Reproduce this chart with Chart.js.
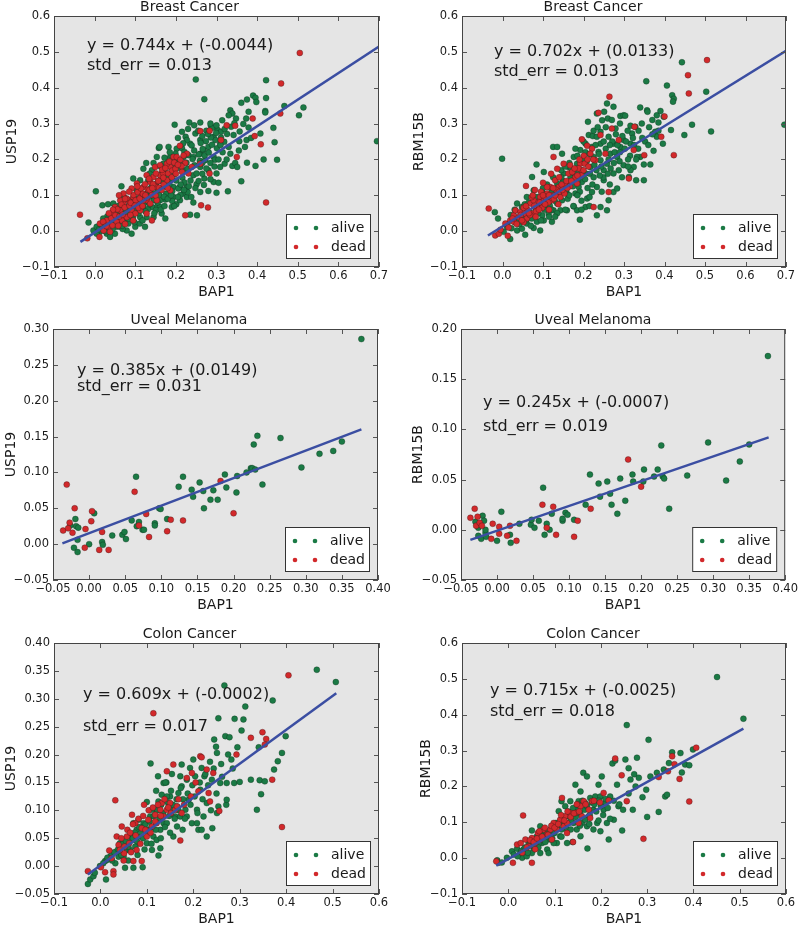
<!DOCTYPE html>
<html>
<head>
<meta charset="utf-8">
<script src="https://cdn.jsdelivr.net/npm/chart.js@4.4.1/dist/chart.umd.min.js"></script>
<style>
    html, body { margin: 0; padding: 0; background: #ffffff; }
    body { width: 800px; height: 925px; overflow: hidden; position: relative; }
    canvas { position: absolute; }
</style>
</head>
<body>
<canvas id="c0"></canvas>
<canvas id="c1"></canvas>
<canvas id="c2"></canvas>
<canvas id="c3"></canvas>
<canvas id="c4"></canvas>
<canvas id="c5"></canvas>
<script>
// ---- data ----
const panelTitles = ['Breast Cancer', 'Breast Cancer', 'Uveal Melanoma', 'Uveal Melanoma', 'Colon Cancer', 'Colon Cancer'];
const xLabel = 'BAP1';
const yLabels = ['USP19', 'RBM15B', 'USP19', 'RBM15B', 'USP19', 'RBM15B'];
const seriesNames = ['alive', 'dead'];

const xTicksBreast = [-0.1, 0.0, 0.1, 0.2, 0.3, 0.4, 0.5, 0.6, 0.7];
const yTicksBreast = [-0.1, 0.0, 0.1, 0.2, 0.3, 0.4, 0.5, 0.6];
const xTicksUveal = [-0.05, 0.00, 0.05, 0.10, 0.15, 0.20, 0.25, 0.30, 0.35, 0.40];
const yTicksUvealUsp = [-0.05, 0.00, 0.05, 0.10, 0.15, 0.20, 0.25, 0.30];
const yTicksUvealRbm = [-0.05, 0.00, 0.05, 0.10, 0.15, 0.20];
const xTicksColon = [-0.1, 0.0, 0.1, 0.2, 0.3, 0.4, 0.5, 0.6];
const yTicksColonUsp = [-0.05, 0.00, 0.05, 0.10, 0.15, 0.20, 0.25, 0.30, 0.35, 0.40];
const yTicksColonRbm = [-0.1, 0.0, 0.1, 0.2, 0.3, 0.4, 0.5, 0.6];

const equations = ['y = 0.744x + (-0.0044)', 'y = 0.702x + (0.0133)', 'y = 0.385x + (0.0149)',
                   'y = 0.245x + (-0.0007)', 'y = 0.609x + (-0.0002)', 'y = 0.715x + (-0.0025)'];
const stdErrs = ['std_err = 0.013', 'std_err = 0.013', 'std_err = 0.031',
                 'std_err = 0.019', 'std_err = 0.017', 'std_err = 0.018'];

// regression line end points
const fitX = [[-0.035, 0.70], [-0.036, 0.70], [-0.037, 0.377], [-0.037, 0.377], [-0.027, 0.508], [-0.026, 0.508]];
const fitY = [[-0.030, 0.515], [-0.012, 0.503], [0.001, 0.160], [-0.010, 0.092], [-0.015, 0.310], [-0.021, 0.361]];

const breastUspAlive = [
    [0.003,0.111],[-0.015,0.024],[-0.003,0.002],[0.019,0.072],[0.066,0.125],[0.033,0.075],[0.095,0.147],[0.127,0.190],
    [0.158,0.232],[0.197,0.297],[0.249,0.423],[0.270,0.368],[0.233,0.303],[0.260,0.303],[0.286,0.294],[0.290,0.288],
    [0.303,0.282],[0.311,0.277],[0.334,0.337],[0.339,0.328],[0.348,0.314],[0.361,0.358],[0.375,0.367],[0.390,0.378],
    [0.396,0.372],[0.398,0.360],[0.422,0.421],[0.422,0.371],[0.420,0.335],[0.420,0.331],[0.379,0.333],[0.373,0.314],
    [0.379,0.289],[0.357,0.278],[0.374,0.254],[0.408,0.272],[0.440,0.288],[0.467,0.349],[0.514,0.345],[0.503,0.323],
    [0.443,0.248],[0.449,0.199],[0.416,0.200],[0.396,0.182],[0.375,0.191],[0.361,0.139],[0.339,0.182],[0.328,0.111],
    [0.320,0.188],[0.334,0.216],[0.695,0.251],[0.309,0.244],[0.293,0.207],[0.280,0.235],[0.260,0.254],[0.248,0.272],
    [0.235,0.244],[0.224,0.263],[0.215,0.231],[0.202,0.202],[0.194,0.179],[0.182,0.235],[0.169,0.170],[0.160,0.235],
    [0.161,0.142],[0.153,0.105],[0.174,0.088],[0.174,0.035],[0.201,0.075],[0.210,0.086],[0.235,0.046],[0.252,0.044],
    [0.243,0.080],[0.260,0.109],[0.280,0.112],[0.300,0.107],[0.293,0.137],[0.270,0.147],[0.260,0.179],[0.243,0.156],
    [0.223,0.170],[0.227,0.123],[0.210,0.123],[0.194,0.123],[0.186,0.142],[0.141,0.170],[0.141,0.123],[0.128,0.095],
    [0.120,0.067],[0.112,0.039],[0.095,0.067],[0.094,0.039],[0.079,0.058],[0.071,0.030],[0.054,0.012],[0.042,0.002],
    [0.030,-0.007],[0.038,-0.016],[0.013,-0.002],[0.022,0.021],[0.054,0.049],[0.046,0.077],[0.072,0.095],[0.087,0.086],
    [0.104,0.114],[0.112,0.142],[0.120,0.174],[0.132,0.142],[0.145,0.105],[0.153,0.067],[0.161,0.086],[0.178,0.123],
    [0.178,0.161],[0.219,0.207],[0.231,0.212],[0.260,0.216],[0.272,0.198],[0.280,0.170],[0.300,0.161],[0.309,0.179],
    [0.275,0.280],[0.293,0.263],[0.330,0.235],[0.342,0.268],[0.346,0.190],[0.351,0.179],[0.330,0.323],[0.314,0.309],
    [0.297,0.254],[0.161,0.067],[0.141,0.067],[0.100,0.012],[0.083,0.021],[0.063,0.012],[0.079,0.002],[0.005,0.012],
    [0.005,-0.007],[0.050,-0.007],[0.091,-0.007],[0.124,0.012],[0.128,0.039],[0.145,0.039],[0.165,0.049],[0.190,0.067],
    [0.194,0.095],[0.219,0.105],[0.227,0.095],[0.153,0.207],[0.169,0.188],[0.186,0.207],[0.202,0.230],[0.215,0.277],
    [0.227,0.254],[0.243,0.207],[0.268,0.226],
    [0.011,0.005],[0.019,0.010],[0.026,0.000],[0.034,0.021],[0.041,0.011],[0.046,0.031],[0.056,0.034],[0.061,0.021],
    [0.064,0.046],[0.071,0.061],[0.076,0.041],[0.081,0.069],[0.086,0.052],[0.091,0.074],[0.097,0.086],[0.101,0.061],
    [0.106,0.091],[0.109,0.074],[0.116,0.101],[0.121,0.094],[0.126,0.081],[0.131,0.111],[0.136,0.096],[0.139,0.121],
    [0.146,0.086],[0.151,0.131],[0.156,0.114],[0.159,0.101],[0.166,0.139],[0.171,0.126],[0.176,0.104],[0.181,0.151],
    [0.184,0.131],[0.191,0.111],[0.196,0.159],[0.201,0.141],[0.206,0.119],[0.209,0.176],[0.216,0.149],[0.221,0.136],
    [0.226,0.191],[0.229,0.174],[0.236,0.141],[0.241,0.201],[0.246,0.184],[0.251,0.161],[0.256,0.214],[0.259,0.196],
    [0.266,0.229],[0.271,0.211],[0.274,0.251],[0.281,0.219],[0.286,0.261],[0.289,0.241],[0.296,0.199],[0.301,0.231],
    [0.311,0.261],[0.319,0.249],[0.326,0.271],[0.336,0.291],[0.344,0.301],[0.356,0.251],[0.366,0.299],[0.171,0.096],
    [0.191,0.084],[0.211,0.101],[0.229,0.109],[0.251,0.131],[0.269,0.129],[0.162,0.181],[0.181,0.199],[0.199,0.216],
    [0.221,0.221],[0.239,0.239],[0.261,0.246],[0.279,0.271],[0.299,0.274],[0.131,0.061],[0.151,0.059],[0.111,0.021],
    [0.069,0.006],[0.031,0.041],[0.059,0.071],
    [0.021,0.035],[0.036,0.045],[0.044,0.005],[0.058,0.055],[0.068,0.015],[0.083,0.035],[0.098,0.025],[0.108,0.050],
    [0.118,0.030],[0.125,0.055],[0.135,0.075],[0.147,0.050],[0.155,0.080],[0.163,0.060],[0.172,0.070],[0.180,0.090],
    [0.188,0.100],[0.196,0.070],[0.205,0.095],[0.212,0.130],[0.220,0.115],[0.232,0.125],[0.238,0.095],[0.248,0.120],
    [0.256,0.140],[0.265,0.160],[0.275,0.175],[0.285,0.190],[0.295,0.180],[0.305,0.200],[0.315,0.220],[0.325,0.200],
    [0.205,0.260],[0.218,0.245],[0.230,0.285],[0.245,0.295],[0.255,0.280],[0.265,0.265],[0.285,0.300],[0.300,0.295],
    [0.310,0.240],[0.320,0.285],[0.185,0.220],[0.172,0.205],[0.145,0.190],[0.135,0.160],[0.165,0.160],[0.195,0.195],
    [0.210,0.190],[0.245,0.225],[0.265,0.190],[0.285,0.145],[0.305,0.135],[0.355,0.225],[0.370,0.235],[0.385,0.260]
];
const breastUspDead = [
    [-0.036,0.046],[-0.018,-0.020],[0.012,-0.016],[0.013,0.021],[0.030,0.030],[0.046,0.049],[0.050,0.067],[0.063,0.058],
    [0.071,0.077],[0.083,0.086],[0.095,0.095],[0.104,0.077],[0.112,0.105],[0.120,0.123],[0.128,0.086],[0.137,0.137],
    [0.145,0.151],[0.153,0.123],[0.161,0.156],[0.169,0.161],[0.178,0.142],[0.186,0.179],[0.194,0.207],[0.210,0.238],
    [0.223,0.190],[0.231,0.161],[0.239,0.179],[0.260,0.188],[0.283,0.161],[0.260,0.279],[0.283,0.280],[0.311,0.254],
    [0.325,0.295],[0.346,0.294],[0.350,0.207],[0.389,0.314],[0.394,0.265],[0.409,0.242],[0.422,0.080],[0.459,0.412],
    [0.457,0.328],[0.505,0.497],[0.279,0.066],[0.262,0.072],[0.223,0.044],[0.186,0.114],[0.141,0.030],[0.128,0.049],
    [0.112,0.058],[0.091,0.058],[0.079,0.039],[0.067,0.030],[0.054,0.026],[0.034,0.012],[0.038,-0.002],[0.022,0.002],
    [0.071,0.105],[0.091,0.119],[0.104,0.133],[0.128,0.156],[0.149,0.179],[0.161,0.184],[0.178,0.188],[0.202,0.207],
    [0.227,0.216],[0.137,0.077],[0.153,0.086],[0.120,0.086],[0.100,0.049],[0.063,0.086],
    [0.021,0.026],[0.029,0.014],[0.041,0.036],[0.051,0.044],[0.056,0.061],[0.061,0.041],[0.066,0.074],[0.074,0.066],
    [0.079,0.091],[0.086,0.071],[0.089,0.079],[0.096,0.101],[0.101,0.086],[0.106,0.109],[0.111,0.091],[0.114,0.119],
    [0.119,0.104],[0.124,0.131],[0.131,0.116],[0.134,0.146],[0.141,0.101],[0.144,0.131],[0.151,0.161],[0.156,0.139],
    [0.159,0.121],[0.166,0.171],[0.169,0.149],[0.174,0.176],[0.181,0.161],[0.184,0.194],[0.191,0.169],[0.196,0.191],
    [0.199,0.174],[0.211,0.199],[0.214,0.181],[0.219,0.211],[0.044,0.016],[0.069,0.046],[0.099,0.071],[0.129,0.094],
    [0.058,0.015],[0.075,0.020],[0.088,0.045],[0.095,0.030],[0.108,0.065],[0.118,0.070],[0.125,0.100],[0.135,0.115],
    [0.142,0.120],[0.150,0.100],[0.157,0.140],[0.165,0.115],[0.170,0.130],[0.180,0.120],[0.190,0.150],[0.200,0.160],
    [0.205,0.185],[0.215,0.165],[0.105,0.125],[0.085,0.110],[0.075,0.090],[0.060,0.100],[0.045,0.060],[0.035,0.050]
];

const breastRbmAlive = [
    [-0.001,0.202],[-0.019,0.053],[-0.011,0.035],[0.019,-0.022],[0.056,-0.010],[0.077,0.009],[0.084,0.186],[0.098,0.109],
    [0.073,0.151],[0.102,0.165],[0.125,0.235],[0.135,0.235],[0.147,0.216],[0.176,0.207],[0.191,0.032],[0.176,0.069],
    [0.159,0.058],[0.143,0.058],[0.122,0.026],[0.102,0.030],[0.036,0.002],[0.044,0.039],[0.036,0.077],[0.060,0.095],
    [0.077,0.114],[0.093,0.086],[0.114,0.077],[0.126,0.105],[0.135,0.133],[0.151,0.161],[0.163,0.179],[0.184,0.188],
    [0.192,0.226],[0.205,0.244],[0.213,0.268],[0.211,0.305],[0.223,0.265],[0.233,0.263],[0.233,0.328],[0.246,0.309],
    [0.258,0.356],[0.274,0.347],[0.251,0.333],[0.291,0.321],[0.299,0.323],[0.303,0.322],[0.260,0.314],[0.340,0.345],
    [0.357,0.337],[0.358,0.333],[0.355,0.418],[0.381,0.323],[0.390,0.335],[0.398,0.319],[0.406,0.406],[0.419,0.379],
    [0.423,0.369],[0.421,0.361],[0.443,0.471],[0.449,0.268],[0.468,0.297],[0.503,0.389],[0.515,0.278],[0.696,0.297],
    [0.416,0.282],[0.385,0.303],[0.377,0.277],[0.381,0.263],[0.396,0.244],[0.373,0.224],[0.365,0.186],[0.349,0.186],
    [0.340,0.207],[0.332,0.207],[0.324,0.179],[0.316,0.170],[0.312,0.151],[0.330,0.142],[0.349,0.142],[0.328,0.291],
    [0.320,0.272],[0.316,0.244],[0.299,0.254],[0.291,0.235],[0.283,0.207],[0.274,0.244],[0.266,0.216],[0.258,0.188],
    [0.250,0.170],[0.242,0.198],[0.237,0.221],[0.225,0.207],[0.217,0.179],[0.205,0.161],[0.196,0.137],[0.188,0.123],
    [0.180,0.105],[0.167,0.128],[0.159,0.105],[0.147,0.086],[0.135,0.077],[0.126,0.058],[0.114,0.049],[0.098,0.044],
    [0.085,0.026],[0.073,0.039],[0.060,0.021],[0.048,0.007],[0.011,0.012],[0.003,-0.002],[0.028,0.030],[0.209,0.091],
    [0.221,0.109],[0.233,0.123],[0.250,0.142],[0.262,0.086],[0.274,0.109],[0.283,0.119],[0.258,0.058],[0.233,0.044],
    [0.242,0.067],[0.205,0.067],[0.184,0.058],[0.093,0.002],[0.287,0.170],[0.299,0.184],[0.274,0.161],[0.242,0.244],
    [0.262,0.263],[0.279,0.286],[0.316,0.294],[0.242,0.277],[0.221,0.235],[0.172,0.151],[0.151,0.123],[0.135,0.105],
    [0.118,0.095],[0.102,0.067],[0.077,0.049],[0.060,0.058],[0.048,0.067],
    [0.012,0.020],[0.022,0.008],[0.031,0.025],[0.042,0.020],[0.051,0.040],[0.058,0.030],[0.066,0.055],[0.072,0.035],
    [0.081,0.065],[0.088,0.050],[0.096,0.075],[0.104,0.060],[0.108,0.090],[0.117,0.070],[0.121,0.110],[0.129,0.085],
    [0.137,0.120],[0.142,0.100],[0.149,0.140],[0.157,0.115],[0.161,0.090],[0.168,0.150],[0.174,0.125],[0.179,0.160],
    [0.186,0.140],[0.191,0.110],[0.198,0.165],[0.204,0.145],[0.208,0.195],[0.216,0.160],[0.222,0.130],[0.227,0.185],
    [0.232,0.170],[0.238,0.215],[0.244,0.180],[0.249,0.150],[0.255,0.230],[0.262,0.200],[0.267,0.175],[0.271,0.250],
    [0.277,0.220],[0.284,0.240],[0.289,0.195],[0.296,0.265],[0.302,0.230],[0.309,0.280],[0.315,0.210],[0.322,0.260],
    [0.336,0.280],[0.344,0.300],[0.352,0.250],[0.362,0.290],[0.370,0.310],[0.225,0.280],[0.205,0.220],[0.185,0.210],
    [0.165,0.190],[0.145,0.170],[0.125,0.150],[0.265,0.130],[0.245,0.110],[0.215,0.095],[0.195,0.085],[0.175,0.070],
    [0.155,0.060],[0.135,0.050],[0.115,0.040],[0.095,0.030],[0.310,0.180],[0.330,0.200],
    [0.020,0.045],[0.030,0.060],[0.040,0.030],[0.055,0.075],[0.065,0.080],[0.070,0.015],[0.085,0.095],[0.100,0.120],
    [0.110,0.130],[0.120,0.060],[0.130,0.040],[0.145,0.150],[0.155,0.180],[0.165,0.100],[0.170,0.175],[0.185,0.100],
    [0.190,0.160],[0.200,0.200],[0.210,0.120],[0.215,0.215],[0.225,0.150],[0.230,0.240],[0.240,0.155],[0.250,0.250],
    [0.260,0.160],[0.265,0.240],[0.275,0.190],[0.280,0.270],[0.290,0.220],[0.295,0.150],[0.305,0.250],[0.310,0.200],
    [0.325,0.240],[0.335,0.230],[0.345,0.260],[0.360,0.240],[0.370,0.270],[0.385,0.280],[0.255,0.290],[0.235,0.290],
    [0.270,0.310],[0.290,0.300],[0.200,0.250],[0.180,0.230],[0.195,0.060],[0.215,0.070]
];
const breastRbmDead = [
    [-0.034,0.063],[-0.018,-0.012],[-0.009,-0.007],[0.013,-0.013],[-0.005,0.004],[0.007,0.021],[0.019,0.030],[0.028,0.044],
    [0.032,0.058],[0.044,0.053],[0.058,0.126],[0.054,0.049],[0.060,0.035],[0.069,0.077],[0.077,0.086],[0.085,0.067],
    [0.093,0.095],[0.102,0.086],[0.110,0.105],[0.118,0.123],[0.126,0.207],[0.130,0.142],[0.139,0.123],[0.143,0.095],
    [0.151,0.188],[0.155,0.128],[0.163,0.161],[0.176,0.142],[0.184,0.133],[0.196,0.256],[0.192,0.188],[0.203,0.188],
    [0.209,0.238],[0.221,0.230],[0.229,0.198],[0.237,0.330],[0.242,0.268],[0.254,0.216],[0.262,0.109],[0.225,0.067],
    [0.270,0.286],[0.264,0.375],[0.287,0.254],[0.312,0.147],[0.324,0.226],[0.326,0.291],[0.350,0.212],[0.392,0.263],
    [0.400,0.320],[0.423,0.212],[0.458,0.435],[0.460,0.384],[0.505,0.477],[0.028,0.026],[0.040,0.039],[0.073,0.049],
    [0.089,0.081],[0.110,0.123],[0.122,0.086],[0.135,0.174],[0.167,0.184],[0.196,0.170],[0.217,0.216],
    [0.015,0.010],[0.025,0.035],[0.035,0.020],[0.045,0.045],[0.052,0.025],[0.062,0.060],[0.068,0.045],[0.078,0.070],
    [0.083,0.055],[0.092,0.080],[0.098,0.065],[0.106,0.095],[0.113,0.080],[0.120,0.100],[0.127,0.090],[0.133,0.115],
    [0.140,0.110],[0.146,0.130],[0.153,0.105],[0.158,0.140],[0.166,0.125],[0.172,0.165],[0.180,0.150],[0.188,0.175],
    [0.195,0.155],[0.201,0.210],[0.212,0.180],[0.224,0.200],[0.052,0.065],[0.072,0.095],[0.095,0.110],[0.115,0.060],
    [0.138,0.075],
    [0.048,0.030],[0.058,0.070],[0.065,0.050],[0.075,0.100],[0.082,0.040],[0.090,0.060],[0.100,0.100],[0.105,0.075],
    [0.115,0.100],[0.125,0.120],[0.130,0.100],[0.140,0.150],[0.148,0.115],[0.160,0.120],[0.170,0.140],[0.178,0.175],
    [0.185,0.155],[0.190,0.200],[0.200,0.170],[0.210,0.200],[0.080,0.115],[0.100,0.135],[0.120,0.160]
];

const uvealUspAlive = [
    [-0.019,0.035],[-0.021,-0.005],[-0.018,0.025],[-0.015,0.023],[-0.016,0.006],[-0.016,-0.011],[-0.026,0.026],[0.000,0.000],
    [0.007,0.043],[0.018,0.003],[0.019,-0.001],[0.032,0.012],[0.046,0.013],[0.049,0.017],[0.051,0.007],[0.059,0.033],
    [0.065,0.094],[0.066,0.025],[0.069,0.031],[0.074,0.020],[0.076,0.020],[0.091,0.029],[0.091,0.026],[0.097,0.050],
    [0.099,0.049],[0.108,0.035],[0.124,0.080],[0.130,0.094],[0.142,0.076],[0.144,0.066],[0.153,0.086],[0.158,0.074],
    [0.159,0.050],[0.172,0.075],[0.168,0.062],[0.178,0.062],[0.188,0.097],[0.190,0.079],[0.204,0.072],[0.205,0.095],
    [0.218,0.100],[0.224,0.106],[0.226,0.106],[0.228,0.139],[0.230,0.104],[0.233,0.151],[0.240,0.083],[0.265,0.148],
    [0.294,0.107],[0.319,0.126],[0.338,0.130],[0.350,0.143],[0.377,0.286]
];
const uvealUspDead = [
    [-0.036,0.019],[-0.031,0.083],[-0.027,0.030],[-0.029,0.022],[-0.023,0.016],[-0.020,0.050],[-0.006,-0.005],[-0.005,0.021],
    [0.003,0.032],[0.004,0.046],[0.014,-0.008],[0.018,0.017],[0.027,-0.008],[0.063,0.073],[0.069,0.026],[0.079,0.042],
    [0.083,0.010],[0.108,0.018],[0.113,0.034],[0.130,0.033],[0.182,0.088],[0.200,0.043]
];

const uvealRbmAlive = [
    [-0.030,0.008],[-0.026,0.002],[-0.026,-0.006],[-0.022,-0.009],[-0.020,0.014],[-0.018,0.009],[-0.016,-0.003],[-0.015,-0.007],
    [-0.016,0.000],[0.000,-0.011],[0.006,0.018],[0.018,-0.005],[0.019,-0.013],[0.031,0.006],[0.047,0.005],[0.048,0.010],
    [0.052,0.002],[0.058,0.009],[0.064,0.042],[0.066,-0.005],[0.069,0.006],[0.073,0.000],[0.076,0.016],[0.091,0.009],
    [0.091,0.011],[0.095,0.017],[0.098,0.015],[0.107,0.010],[0.123,0.025],[0.129,0.055],[0.141,0.046],[0.143,0.033],
    [0.153,0.048],[0.157,0.036],[0.159,0.025],[0.171,0.051],[0.167,0.016],[0.178,0.029],[0.188,0.055],[0.189,0.048],
    [0.204,0.060],[0.203,0.048],[0.218,0.053],[0.223,0.060],[0.228,0.084],[0.230,0.053],[0.232,0.051],[0.239,0.021],
    [0.264,0.054],[0.293,0.087],[0.318,0.049],[0.337,0.068],[0.350,0.085],[0.376,0.173]
];
const uvealRbmDead = [
    [-0.037,0.012],[-0.031,0.021],[-0.027,0.013],[-0.029,0.004],[-0.024,0.007],[-0.021,0.004],[-0.006,0.006],[-0.008,-0.009],
    [0.003,-0.004],[0.003,0.003],[0.014,-0.006],[0.018,0.004],[0.027,-0.011],[0.063,0.025],[0.069,0.002],[0.078,0.023],
    [0.082,-0.005],[0.107,-0.007],[0.112,0.009],[0.130,0.021],[0.182,0.070],[0.200,0.043]
];

const colonUspAlive = [
    [-0.027,-0.032],[-0.022,-0.024],[-0.015,-0.018],[-0.012,-0.012],[-0.001,0.000],[0.010,0.009],[0.012,-0.024],[0.021,0.017],
    [0.032,0.005],[0.035,0.026],[0.042,0.041],[0.053,-0.003],[0.057,0.029],[0.068,0.047],[0.071,-0.003],[0.078,0.065],
    [0.082,0.041],[0.091,-0.002],[0.093,0.077],[0.100,0.041],[0.107,0.089],[0.108,0.184],[0.114,0.053],[0.121,0.101],
    [0.125,0.019],[0.129,0.032],[0.124,0.161],[0.132,0.128],[0.136,0.077],[0.142,0.150],[0.147,0.107],[0.150,0.125],
    [0.154,0.165],[0.157,0.053],[0.161,0.089],[0.165,0.107],[0.168,0.131],[0.172,0.161],[0.175,0.143],[0.177,0.065],
    [0.183,0.101],[0.186,0.155],[0.190,0.119],[0.193,0.176],[0.197,0.077],[0.200,0.191],[0.204,0.161],[0.208,0.101],
    [0.211,0.065],[0.215,0.137],[0.218,0.176],[0.224,0.161],[0.229,0.113],[0.236,0.187],[0.241,0.068],[0.245,0.227],
    [0.249,0.214],[0.251,0.095],[0.254,0.107],[0.254,0.265],[0.251,0.203],[0.258,0.149],[0.260,0.183],[0.267,0.324],
    [0.269,0.233],[0.271,0.110],[0.272,0.149],[0.278,0.231],[0.282,0.191],[0.288,0.149],[0.289,0.264],[0.295,0.213],
    [0.300,0.151],[0.304,0.243],[0.308,0.263],[0.312,0.286],[0.324,0.155],[0.341,0.213],[0.343,0.154],[0.337,0.101],
    [0.346,0.129],[0.354,0.152],[0.371,0.297],[0.374,0.173],[0.382,0.188],[0.391,0.203],[0.399,0.233],[0.507,0.330],
    [0.466,0.352],[0.229,0.053],[0.222,0.089],[0.175,0.182],[0.136,0.149],[0.143,0.125],[0.125,0.116],[0.111,0.101],
    [0.100,0.065],[0.085,0.053],[0.075,0.035],[0.064,0.029],[0.050,0.017],[0.039,0.017],[0.024,0.020],[0.014,0.011],
    [0.006,0.005],[0.071,0.077],[0.082,0.083],[0.129,0.065],[0.143,0.077],[0.186,0.089],[0.208,0.077],[0.218,0.065],
    [0.272,0.119],[0.172,0.089],[0.157,0.101],[0.165,0.071],[0.121,0.047],[0.111,0.029],[0.240,0.155],
    [0.015,0.015],[0.025,0.010],[0.030,0.025],[0.038,0.030],[0.045,0.020],[0.048,0.040],[0.055,0.045],[0.060,0.035],
    [0.065,0.055],[0.070,0.050],[0.074,0.060],[0.078,0.045],[0.084,0.070],[0.088,0.060],[0.092,0.050],[0.097,0.075],
    [0.102,0.060],[0.106,0.080],[0.110,0.070],[0.115,0.090],[0.119,0.065],[0.123,0.100],[0.127,0.085],[0.131,0.110],
    [0.135,0.095],[0.139,0.070],[0.144,0.115],[0.148,0.090],[0.152,0.135],[0.156,0.110],[0.160,0.085],[0.164,0.120],
    [0.168,0.100],[0.173,0.140],[0.178,0.120],[0.182,0.085],[0.188,0.130],[0.194,0.110],[0.198,0.145],[0.203,0.125],
    [0.209,0.095],[0.214,0.150],[0.220,0.120],[0.226,0.165],[0.232,0.145],[0.238,0.100],[0.244,0.175],[0.250,0.130],
    [0.262,0.160],[0.275,0.200],[0.285,0.175],[0.110,0.040],[0.095,0.030],[0.080,0.020],[0.060,0.010],[0.130,0.050],
    [0.150,0.060],[0.100,0.115],[0.120,0.135],[0.140,0.150]
];
const colonUspDead = [
    [-0.027,-0.009],[0.001,-0.002],[0.010,-0.011],[0.028,-0.009],[0.028,-0.015],[0.032,0.118],[0.019,0.028],[0.035,0.053],
    [0.039,0.038],[0.046,0.071],[0.051,0.023],[0.057,0.053],[0.062,0.041],[0.068,0.092],[0.071,0.009],[0.075,0.077],
    [0.078,0.029],[0.089,0.009],[0.089,0.068],[0.094,0.110],[0.100,0.053],[0.103,0.083],[0.111,0.071],[0.114,0.274],
    [0.118,0.092],[0.121,0.077],[0.129,0.101],[0.132,0.113],[0.136,0.089],[0.143,0.170],[0.143,0.101],[0.150,0.113],
    [0.157,0.182],[0.161,0.101],[0.165,0.107],[0.172,0.046],[0.175,0.095],[0.186,0.158],[0.197,0.167],[0.211,0.134],
    [0.215,0.197],[0.218,0.195],[0.229,0.173],[0.233,0.131],[0.236,0.116],[0.243,0.167],[0.256,0.099],[0.293,0.200],
    [0.324,0.230],[0.349,0.240],[0.357,0.228],[0.354,0.218],[0.370,0.155],[0.391,0.070],[0.405,0.342],[0.024,0.014],
    [0.042,0.029],
    [0.045,0.050],[0.052,0.035],[0.058,0.065],[0.064,0.060],[0.070,0.075],[0.076,0.055],[0.082,0.085],[0.086,0.040],
    [0.092,0.090],[0.097,0.065],[0.104,0.100],[0.108,0.060],[0.113,0.105],[0.118,0.080],[0.124,0.110],[0.130,0.090],
    [0.138,0.120],[0.146,0.105],[0.152,0.095],[0.168,0.120],[0.180,0.110],[0.195,0.125],[0.205,0.150],[0.066,0.025],
    [0.050,0.010]
];

const colonRbmAlive = [
    [-0.024,-0.006],[-0.021,-0.013],[-0.014,-0.012],[-0.003,0.001],[0.008,0.019],[0.019,0.026],[0.030,0.001],[0.033,0.024],
    [0.040,0.005],[0.044,0.042],[0.051,0.077],[0.055,0.024],[0.062,0.061],[0.069,0.089],[0.073,0.042],[0.080,0.070],
    [0.084,0.024],[0.091,0.052],[0.094,0.080],[0.102,0.098],[0.105,0.042],[0.109,0.131],[0.115,0.159],[0.120,0.098],
    [0.123,0.145],[0.127,0.080],[0.130,0.117],[0.134,0.159],[0.139,0.045],[0.141,0.098],[0.145,0.205],[0.148,0.135],
    [0.152,0.159],[0.156,0.186],[0.159,0.098],[0.162,0.238],[0.166,0.154],[0.170,0.228],[0.171,0.027],[0.174,0.117],
    [0.177,0.168],[0.184,0.135],[0.188,0.172],[0.192,0.098],[0.195,0.205],[0.199,0.172],[0.202,0.228],[0.206,0.135],
    [0.210,0.154],[0.217,0.052],[0.213,0.098],[0.220,0.172],[0.225,0.264],[0.231,0.272],[0.235,0.205],[0.238,0.145],
    [0.246,0.077],[0.248,0.135],[0.253,0.275],[0.256,0.371],[0.260,0.251],[0.264,0.219],[0.269,0.135],[0.272,0.234],
    [0.278,0.280],[0.282,0.224],[0.300,0.115],[0.298,0.191],[0.303,0.330],[0.307,0.228],[0.325,0.129],[0.339,0.172],
    [0.343,0.177],[0.347,0.265],[0.354,0.295],[0.372,0.293],[0.375,0.239],[0.382,0.261],[0.391,0.259],[0.399,0.303],
    [0.451,0.505],[0.508,0.389],[0.336,0.247],[0.321,0.238],[0.228,0.107],[0.199,0.075],[0.184,0.080],[0.170,0.089],
    [0.156,0.061],[0.098,0.042],[0.087,0.014],[0.069,0.014],[0.051,0.014],[0.026,0.014],[0.112,0.061],[0.127,0.042],
    [0.148,0.080],[0.166,0.107],[0.141,0.117],[0.098,0.070],[0.084,0.052],[0.066,0.042],
    [0.012,0.010],[0.020,0.005],[0.028,0.020],[0.036,0.030],[0.042,0.015],[0.048,0.045],[0.054,0.035],[0.060,0.050],
    [0.065,0.030],[0.070,0.065],[0.075,0.055],[0.080,0.045],[0.086,0.075],[0.090,0.060],[0.096,0.090],[0.100,0.070],
    [0.106,0.085],[0.110,0.100],[0.115,0.080],[0.120,0.115],[0.125,0.095],[0.130,0.130],[0.135,0.105],[0.140,0.140],
    [0.146,0.115],[0.150,0.150],[0.155,0.125],[0.160,0.160],[0.165,0.135],[0.170,0.145],[0.176,0.120],[0.180,0.155],
    [0.186,0.150],[0.190,0.130],[0.196,0.160],[0.200,0.145],[0.205,0.120],[0.210,0.165],[0.215,0.140],[0.220,0.110],
    [0.228,0.160],[0.240,0.150],[0.260,0.180],[0.275,0.200],[0.290,0.170],[0.135,0.080],[0.155,0.090],[0.175,0.095],
    [0.195,0.105],[0.115,0.060],[0.095,0.055]
];
const colonRbmDead = [
    [-0.026,-0.009],[0.010,-0.013],[0.051,-0.013],[0.032,0.119],[0.019,0.038],[0.027,0.042],[0.037,0.052],[0.044,0.033],
    [0.051,0.056],[0.058,0.042],[0.064,0.070],[0.069,0.052],[0.076,0.080],[0.084,0.066],[0.091,0.080],[0.098,0.098],
    [0.105,0.080],[0.112,0.107],[0.116,0.168],[0.120,0.089],[0.123,0.117],[0.127,0.098],[0.134,0.126],[0.140,0.045],
    [0.145,0.126],[0.152,0.098],[0.156,0.145],[0.159,0.117],[0.163,0.159],[0.174,0.135],[0.177,0.112],[0.181,0.159],
    [0.206,0.182],[0.217,0.161],[0.231,0.278],[0.245,0.231],[0.256,0.159],[0.292,0.054],[0.325,0.226],[0.345,0.242],
    [0.354,0.284],[0.359,0.262],[0.370,0.221],[0.391,0.158],[0.406,0.308],[0.127,0.070],[0.094,0.052],
    [0.040,0.030],[0.047,0.050],[0.055,0.045],[0.062,0.055],[0.067,0.075],[0.073,0.060],[0.079,0.085],[0.086,0.065],
    [0.093,0.090],[0.100,0.085],[0.108,0.095],[0.114,0.120],[0.121,0.105],[0.128,0.130],[0.135,0.115],[0.142,0.125],
    [0.148,0.150],[0.153,0.130],[0.167,0.150],[0.185,0.160],[0.198,0.155],[0.030,0.015],[0.058,0.025]
];

// ---- layout of the six panels (page pixels) ----
const panelBoxes = [
    [54, 16, 379, 267], [462, 16, 786, 267],
    [53, 329, 378, 580], [461, 329, 786, 580],
    [54, 643, 379, 894], [462, 643, 786, 894]
];
const yTitleCenters = [12, 19, 11, 18, 11, 26];
const textOffsets = [[33, 30, 50], [32, 36, 56], [24, 42, 58], [22, 74, 98], [29, 52, 84], [28, 48, 69]];

const panelData = [
    { alive: breastUspAlive, dead: breastUspDead, xt: xTicksBreast, yt: yTicksBreast, xd: 1, yd: 1 },
    { alive: breastRbmAlive, dead: breastRbmDead, xt: xTicksBreast, yt: yTicksBreast, xd: 1, yd: 1 },
    { alive: uvealUspAlive, dead: uvealUspDead, xt: xTicksUveal, yt: yTicksUvealUsp, xd: 2, yd: 2 },
    { alive: uvealRbmAlive, dead: uvealRbmDead, xt: xTicksUveal, yt: yTicksUvealRbm, xd: 2, yd: 2 },
    { alive: colonUspAlive, dead: colonUspDead, xt: xTicksColon, yt: yTicksColonUsp, xd: 1, yd: 2 },
    { alive: colonRbmAlive, dead: colonRbmDead, xt: xTicksColon, yt: yTicksColonRbm, xd: 1, yd: 1 }
];

const FONT = 'DejaVu Sans';
const GREEN = '#1b7a45';
const RED = '#d2292b';
const LINE_BLUE = '#3b4ea2';
const AXES_BG = '#e5e5e5';
const TOP_SPACE = 26;     // canvas px above the plot area
const X_AXIS_H = 40;      // canvas px below the plot area

// matplotlib style minus sign
function fmt(v, d) {
    if (v < 0) return '\u2212' + Math.abs(v).toFixed(d);
    return v.toFixed(d);
}

function toPoints(pairs) {
    return pairs.map(p => ({ x: p[0], y: p[1] }));
}

// background, inward ticks, frame, equation text and legend box
const mplLook = {
    id: 'mplLook',
    beforeDatasetsDraw(chart) {
        const a = chart.chartArea;
        const ctx = chart.ctx;
        ctx.save();
        ctx.fillStyle = AXES_BG;
        ctx.fillRect(a.left, a.top, a.right - a.left, a.bottom - a.top);
        ctx.restore();
    },
    afterDatasetsDraw(chart, args, opts) {
        const a = chart.chartArea;
        const ctx = chart.ctx;
        const xs = chart.scales.x;
        const ys = chart.scales.y;
        ctx.save();

        // tick marks pointing inwards on all four sides
        ctx.strokeStyle = '#555555';
        ctx.lineWidth = 1;
        ctx.beginPath();
        xs.ticks.forEach(t => {
            const px = Math.round(xs.getPixelForValue(t.value)) + 0.5;
            ctx.moveTo(px, a.bottom); ctx.lineTo(px, a.bottom - 5);
            ctx.moveTo(px, a.top); ctx.lineTo(px, a.top + 5);
        });
        ys.ticks.forEach(t => {
            const py = Math.round(ys.getPixelForValue(t.value)) + 0.5;
            ctx.moveTo(a.left, py); ctx.lineTo(a.left + 5, py);
            ctx.moveTo(a.right, py); ctx.lineTo(a.right - 5, py);
        });
        ctx.stroke();

        // frame
        ctx.strokeStyle = '#444444';
        ctx.strokeRect(a.left + 0.5, a.top + 0.5, a.right - a.left - 1, a.bottom - a.top - 1);

        // fit equation
        ctx.fillStyle = '#1a1a1a';
        ctx.font = '16px "' + FONT + '"';
        ctx.textAlign = 'left';
        ctx.textBaseline = 'middle';
        ctx.fillText(opts.eq, a.left + opts.off[0], a.top + opts.off[1]);
        ctx.fillText(opts.err, a.left + opts.off[0], a.top + opts.off[2]);

        // legend in the lower right corner
        const bw = 85, bh = 45;
        const bx = a.right - 8 - bw;
        const by = a.bottom - 8 - bh;
        ctx.fillStyle = '#ffffff';
        ctx.fillRect(bx, by, bw, bh);
        ctx.strokeStyle = '#333333';
        ctx.strokeRect(bx + 0.5, by + 0.5, bw - 1, bh - 1);
        const rows = [[GREEN, seriesNames[0], by + 14], [RED, seriesNames[1], by + 33]];
        rows.forEach(r => {
            ctx.fillStyle = r[0];
            [bx + 10, bx + 30].forEach(mx => {
                ctx.beginPath();
                ctx.arc(mx, r[2], 2.3, 0, Math.PI * 2);
                ctx.fill();
            });
            ctx.fillStyle = '#1a1a1a';
            ctx.font = '14px "' + FONT + '"';
            ctx.fillText(r[1], bx + 45, r[2]);
        });
        ctx.restore();
    }
};

function makePanel(i) {
    const box = panelBoxes[i];
    const col = i % 2;
    const colLeft = col * 400;
    const d = panelData[i];
    const canvas = document.getElementById('c' + i);
    const h = TOP_SPACE + (box[3] - box[1]) + X_AXIS_H;
    canvas.width = 400;
    canvas.height = h;
    canvas.style.left = colLeft + 'px';
    canvas.style.top = (box[1] - TOP_SPACE) + 'px';

    const tickFont = { family: FONT, size: 11.5, weight: 'normal' };
    const titleFont = { family: FONT, size: 14, weight: 'normal' };

    new Chart(canvas.getContext('2d'), {
        type: 'scatter',
        data: {
            datasets: [
                {
                    label: 'fit',
                    type: 'line',
                    data: [{ x: fitX[i][0], y: fitY[i][0] }, { x: fitX[i][1], y: fitY[i][1] }],
                    borderColor: LINE_BLUE,
                    borderWidth: 2.5,
                    pointRadius: 0,
                    fill: false,
                    order: 0
                },
                {
                    label: seriesNames[1],
                    data: toPoints(d.dead),
                    backgroundColor: RED,
                    borderColor: 'rgba(40,20,20,0.55)',
                    borderWidth: 0.6,
                    pointRadius: 3,
                    order: 1
                },
                {
                    label: seriesNames[0],
                    data: toPoints(d.alive),
                    backgroundColor: GREEN,
                    borderColor: 'rgba(10,40,20,0.55)',
                    borderWidth: 0.6,
                    pointRadius: 3,
                    order: 2
                }
            ]
        },
        options: {
            responsive: false,
            animation: false,
            devicePixelRatio: 1,
            events: [],
            layout: {
                padding: { left: 0, top: TOP_SPACE - 16.8, right: colLeft + 400 - box[2], bottom: 0 }
            },
            plugins: {
                legend: { display: false },
                tooltip: { enabled: false },
                title: {
                    display: true,
                    text: panelTitles[i],
                    color: '#1a1a1a',
                    font: titleFont,
                    padding: { top: 0, bottom: 0 }
                },
                mplLook: { eq: equations[i], err: stdErrs[i], off: textOffsets[i] }
            },
            scales: {
                x: {
                    type: 'linear',
                    position: 'bottom',
                    min: d.xt[0],
                    max: d.xt[d.xt.length - 1],
                    afterBuildTicks: s => { s.ticks = d.xt.map(v => ({ value: v })); },
                    afterFit: s => { s.height = X_AXIS_H; },
                    grid: { display: false, drawTicks: false },
                    border: { display: false },
                    ticks: {
                        autoSkip: false, maxRotation: 0, minRotation: 0, padding: 2,
                        color: '#1a1a1a', font: tickFont,
                        callback: v => fmt(v, d.xd)
                    },
                    title: {
                        display: true, text: xLabel, color: '#1a1a1a', font: titleFont,
                        padding: { top: 0, bottom: X_AXIS_H - 25 - 8.4 }
                    }
                },
                y: {
                    type: 'linear',
                    position: 'left',
                    min: d.yt[0],
                    max: d.yt[d.yt.length - 1],
                    afterBuildTicks: s => { s.ticks = d.yt.map(v => ({ value: v })); },
                    afterFit: s => { s.width = box[0] - colLeft; },
                    grid: { display: false, drawTicks: false },
                    border: { display: false },
                    ticks: {
                        autoSkip: false, padding: 4,
                        color: '#1a1a1a', font: tickFont,
                        callback: v => fmt(v, d.yd)
                    },
                    title: {
                        display: true, text: yLabels[i], color: '#1a1a1a', font: titleFont,
                        padding: { top: yTitleCenters[i] - 8.4, bottom: 0 }
                    }
                }
            }
        },
        plugins: [mplLook]
    });
}

for (let i = 0; i < 6; i++) {
    makePanel(i);
}
</script>
</body>
</html>
